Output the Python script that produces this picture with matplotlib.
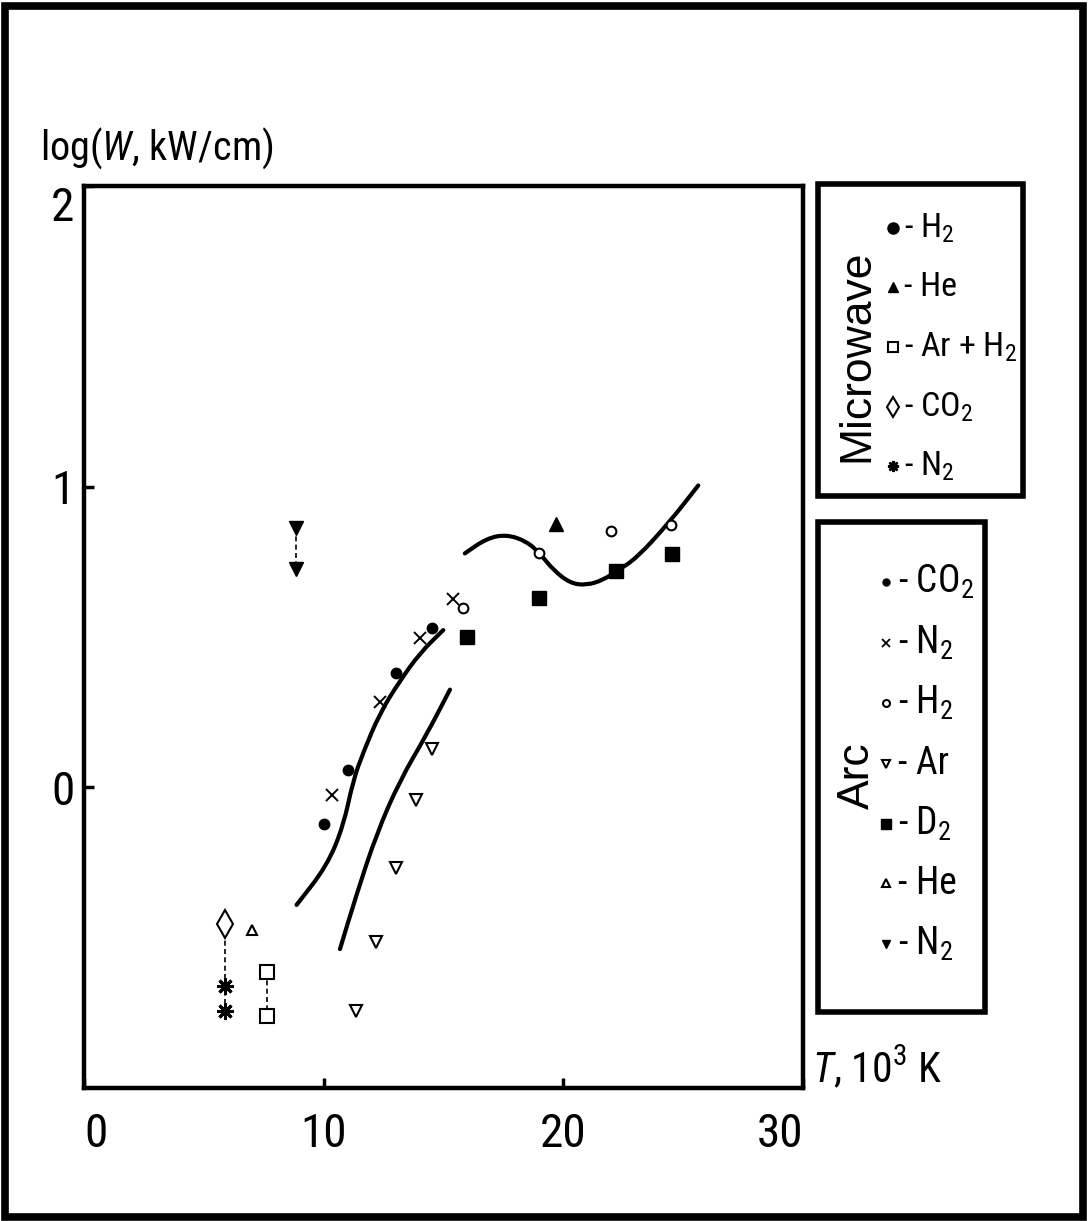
import matplotlib
matplotlib.use("Agg")
import matplotlib.pyplot as plt
from matplotlib import font_manager as fm
from matplotlib.lines import Line2D
from matplotlib.patches import Rectangle, PathPatch
from matplotlib.path import Path


def pick_narrow_face():
    """Return (family, stretch) of an installed narrow sans face, if any."""
    wanted = ["Liberation Sans Narrow", "Roboto Condensed", "DejaVu Sans",
              "Noto Sans", "Open Sans", "Open Sans Condensed"]
    narrow = {"condensed", "semi-condensed", "extra-condensed",
              "ultra-condensed", 300, 400, 500}
    found = {}
    for f in fm.fontManager.ttflist:
        st = f.stretch
        is_narrow = (st in narrow) or ("Narrow" in f.name) or ("Condensed" in f.name)
        if is_narrow and f.style == "normal":
            found.setdefault(f.name, st)
    for name in wanted:
        if name in found:
            return name, found[name]
    return "Liberation Sans", "normal"


FAMILY, STRETCH = pick_narrow_face()
plt.rcParams["font.family"] = [FAMILY, "DejaVu Sans"]
plt.rcParams["font.stretch"] = STRETCH
plt.rcParams["mathtext.fontset"] = "custom"
plt.rcParams["mathtext.it"] = f"{FAMILY}:style=italic"
plt.rcParams["mathtext.rm"] = FAMILY
plt.rcParams["mathtext.default"] = "regular"

# ---- data: T in 10^3 K, log(W, kW/cm) ----
# microwave discharges
mw_he_T, mw_he_W = [19.7], [0.877]
mw_arh2_T, mw_arh2_W = [7.64, 7.64], [-0.615, -0.762]
mw_co2_T, mw_co2_W = [5.9], [-0.455]
mw_n2_T, mw_n2_W = [5.9, 5.9], [-0.662, -0.745]

# arc discharges
arc_co2_T = [10.0, 11.0, 13.0, 14.5]
arc_co2_W = [-0.121, 0.056, 0.379, 0.530]
arc_n2x_T = [10.33, 12.35, 14.0, 15.4]
arc_n2x_W = [-0.025, 0.283, 0.497, 0.626]
arc_h2_T = [15.8, 19.0, 22.0, 24.5]
arc_h2_W = [0.596, 0.778, 0.851, 0.872]
arc_ar_T = [11.35, 12.18, 13.02, 13.86, 14.5]
arc_ar_W = [-0.745, -0.515, -0.267, -0.042, 0.129]
arc_d2_T = [16.0, 19.0, 22.2, 24.55]
arc_d2_W = [0.501, 0.631, 0.720, 0.775]
arc_he_T, arc_he_W = [7.0], [-0.474]
arc_n2v_T, arc_n2v_W = [8.84, 8.84], [0.861, 0.725]

# hand-drawn trend curves (guide points)
curve_a_T = [8.87, 10.13, 10.82, 11.23, 11.65, 12.35, 13.18, 14.02, 14.99]
curve_a_W = [-0.391, -0.262, -0.129, 0.023, 0.116, 0.248, 0.354, 0.447, 0.523]
curve_b_T = [10.68, 11.38, 12.21, 13.18, 14.30, 15.27]
curve_b_W = [-0.538, -0.354, -0.154, 0.023, 0.176, 0.325]
curve_c_T = [15.89, 16.80, 17.63, 18.47, 19.02, 19.58, 20.28, 20.97, 21.67,
             22.22, 23.06, 24.45, 25.63]
curve_c_W = [0.778, 0.828, 0.841, 0.818, 0.778, 0.723, 0.679, 0.672, 0.690,
             0.719, 0.762, 0.884, 1.004]

x_ticks = [0, 10, 20, 30]
y_ticks = [0, 1, 2]

W, H = 1088, 1221
fig = plt.figure(figsize=(W / 100, H / 100), dpi=100)


def fx(px):
    return px / W


def fy(py):
    return 1 - py / H


ax = fig.add_axes([fx(84), fy(1088), fx(803) - fx(84), fy(186) - fy(1088)])
ax.set_xlim(0, 30)
ax.set_ylim(-1, 2)
for s in ax.spines.values():
    s.set_linewidth(3.2)
ax.set_xticks(x_ticks)
ax.set_yticks(y_ticks)
ax.set_xticklabels([str(t) for t in x_ticks])
ax.set_yticklabels([str(t) for t in y_ticks])
ax.tick_params(direction="in", length=7, width=2.5, labelsize=34)
ax.tick_params(axis="x", pad=17)
ax.tick_params(axis="y", pad=7)
# end labels sit inside the span of the axis
xl = ax.get_xticklabels()
xl[0].set_ha("left")
xl[-1].set_ha("right")
ax.get_yticklabels()[-1].set_va("top")


def smooth_curve(xs, ys):
    """Quadratic B-spline style path through the guide points."""
    pts = list(zip(xs, ys))
    verts = [pts[0], ((pts[0][0] + pts[1][0]) / 2, (pts[0][1] + pts[1][1]) / 2)]
    codes = [Path.MOVETO, Path.LINETO]
    for i in range(1, len(pts) - 1):
        mid = ((pts[i][0] + pts[i + 1][0]) / 2, (pts[i][1] + pts[i + 1][1]) / 2)
        verts += [pts[i], mid]
        codes += [Path.CURVE3, Path.CURVE3]
    verts.append(pts[-1])
    codes.append(Path.LINETO)
    return PathPatch(Path(verts, codes), fill=False, edgecolor="black", lw=3,
                     capstyle="round", joinstyle="round")


for cx, cy in [(curve_a_T, curve_a_W), (curve_b_T, curve_b_W),
               (curve_c_T, curve_c_W)]:
    ax.add_patch(smooth_curve(cx, cy))

# dashed connectors between paired measurements
dkw = dict(color="black", lw=1.2, ls=(0, (3, 2)))
ax.plot(arc_n2v_T, arc_n2v_W, **dkw)
ax.plot([mw_co2_T[0], mw_n2_T[1]], [mw_co2_W[0], mw_n2_W[1]], **dkw)
ax.plot(mw_arh2_T, mw_arh2_W, **dkw)

open_kw = dict(ls="none", mfc="white", mec="black", mew=1.5)
fill_kw = dict(ls="none", color="black")

ax.plot(arc_co2_T, arc_co2_W, "o", ms=7.5, **fill_kw)
ax.plot(arc_n2x_T, arc_n2x_W, "x", ms=8, mew=1.4, color="black", ls="none")
ax.plot(arc_h2_T, arc_h2_W, "o", ms=7, **open_kw)
ax.plot(arc_ar_T, arc_ar_W, "v", ms=8, **open_kw)
ax.plot(arc_d2_T, arc_d2_W, "s", ms=10.5, **fill_kw)
ax.plot(arc_he_T, arc_he_W, "^", ms=7.5, **open_kw)
ax.plot(arc_n2v_T, arc_n2v_W, "v", ms=9.5, **fill_kw)
ax.plot(mw_he_T, mw_he_W, "^", ms=9.5, **fill_kw)
ax.plot(mw_arh2_T, mw_arh2_W, "s", ms=9.5, **open_kw)
ax.plot(mw_co2_T, mw_co2_W, "d", ms=14, **open_kw)
ax.plot(mw_n2_T, mw_n2_W, marker=(8, 2, 0), ms=12, mew=2.2, **fill_kw)

# axis titles
fig.text(fx(40), fy(148), r"log($\mathit{W}$, kW/cm)", fontsize=29,
         ha="left", va="center")
fig.text(fx(812), fy(1068), r"$\mathit{T}$, 10$^{3}$ K", fontsize=30,
         ha="left", va="center")


# legend panels
def panel(x0, y0, x1, y1):
    fig.add_artist(Rectangle((fx(x0), fy(y1)), fx(x1) - fx(x0), fy(y0) - fy(y1),
                             transform=fig.transFigure, fill=False,
                             edgecolor="black", lw=4))


def entry(mx, tx, py, marker, label, size, **mk):
    fig.add_artist(Line2D([fx(mx)], [fy(py)], transform=fig.transFigure,
                          marker=marker, **mk))
    fig.text(fx(tx), fy(py), label, fontsize=size, ha="left", va="center")


side_font = dict(family=["Liberation Sans", "DejaVu Sans"], stretch="normal")

panel(818, 184, 1023, 496)
fig.text(fx(857), fy(356), "Microwave", fontsize=32, rotation=90,
         ha="center", va="center", **side_font)
mw_size = 24.5
entry(893, 904, 228, "o", r"- H$_2$", mw_size, ms=8, **fill_kw)
entry(893, 904, 287, "^", "- He", mw_size, ms=7, **fill_kw)
entry(893, 904, 347, "s", r"- Ar + H$_2$", mw_size, ms=7, **open_kw)
entry(893, 904, 407, "d", r"- CO$_2$", mw_size, ms=10, **open_kw)
entry(893, 904, 466, (8, 2, 0), r"- N$_2$", mw_size, ms=8, mew=1.8, **fill_kw)

panel(818, 522, 985, 1012)
fig.text(fx(857), fy(776), "Arc", fontsize=32, rotation=90,
         ha="center", va="center", **side_font)
arc_size = 27
entry(886, 898, 582, "o", r"- CO$_2$", arc_size, ms=5, **fill_kw)
entry(886, 898, 643, "x", r"- N$_2$", arc_size, ms=6, mew=1.3, color="black", ls="none")
entry(886, 898, 703, "o", r"- H$_2$", arc_size, ms=5, **open_kw)
entry(886, 898, 764, "v", "- Ar", arc_size, ms=6, **open_kw)
entry(886, 898, 824, "s", r"- D$_2$", arc_size, ms=7, **fill_kw)
entry(886, 898, 883, "^", "- He", arc_size, ms=6, **open_kw)
entry(886, 898, 944, "v", r"- N$_2$", arc_size, ms=6, **fill_kw)

# outer frame
fig.add_artist(Rectangle((fx(5), fy(1217)), fx(1083) - fx(5), fy(6) - fy(1217),
                         transform=fig.transFigure, fill=False,
                         edgecolor="black", lw=5.5))

fig.savefig("out.png", dpi=100, facecolor="white")
